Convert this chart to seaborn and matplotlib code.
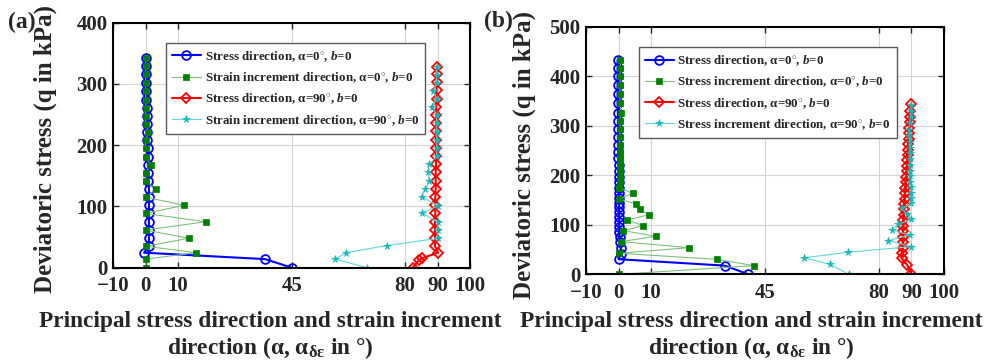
import numpy as np
import pandas as pd
import matplotlib
matplotlib.use('Agg')
import matplotlib.pyplot as plt
import seaborn as sns

# ---- panel (a) data ----
q_a0 = [0, 14, 24.5, 35, 48, 61.5, 75, 88.5, 102, 115, 128, 141.5, 155, 168, 181,
        195, 208, 221.5, 235, 248, 261, 274, 288, 302, 315.5, 329, 343]
stress_a0 = [45, 36.8, -0.5, 1.0, 1.0, 1.0, 1.0, 1.0, 1.0, 1.0, 1.0, 0.8, 0.8, 0.8, 0.8,
             0.8, 0.5, 0.5, 0.5, 0.5, 0.3, 0.2, 0.2, 0.2, 0.1, 0.1, 0.1]
strain_a0 = [0, 0, 15.5, 0, 13.3, 0, 18.5, 0, 11.9, 0, 3.1, 0, 0, 1.5, 0,
             0, 0, 0.8, 0, 0, 0, 0, 0, 0, 0, 0, 0]

q_a90 = [0, 12, 15.5, 24.5, 35, 48.4, 61.8, 75.2, 88.6, 102, 115.4, 128.8, 142.2, 155.6,
         169, 182.4, 195.8, 209.2, 222.6, 236, 249.4, 262.8, 276.2, 289.6, 303, 316.4, 328]
stress_a90 = [82.3, 84.2, 85.2, 90.1, 89.2, 89.2, 89.2, 89.2, 89.3, 89.3, 89.3, 89.4, 89.4, 89.4,
              89.5, 89.5, 89.5, 89.5, 89.6, 89.6, 89.6, 89.6, 89.7, 89.7, 89.7, 89.7, 89.8]
q_a90s = [0, 14, 24.5, 36, 48, 61.5, 75, 89, 101, 116, 128, 141.5, 155.5, 168.5, 183,
          196, 209, 222, 236, 249, 263, 276, 289, 302, 315, 328]
strain_a90 = [68.2, 58.4, 61.8, 74.3, 90.1, 90.1, 90.1, 85.1, 90.1, 85.1, 86.1, 87.5, 86.9, 87.5, 89.7,
              89.7, 89.7, 89.7, 89.7, 89.7, 88.4, 89.7, 88.7, 89.7, 89.7, 89.7]

# ---- panel (b) data ----
q_b0 = [0, 17.5, 30.5, 42, 54, 65, 75, 85, 95, 105, 115, 125, 135, 145, 155, 165, 175,
        186, 197, 209, 221, 234, 247, 261, 277, 293, 310, 326, 345, 365, 382, 400, 416, 433]
stress_b0 = [39.9, 32.7, 0.0, 0.7, 0.7, 0.5, 0.3, 0.2, 0.2, 0.2, 0.2, 0.2, 0.2, 0.2, 0.2, 0.2, 0.2,
             0.1, 0.0, 0.0, 0.0, -0.1, -0.1, -0.2, -0.2, -0.2, -0.2, -0.2, -0.3, -0.3, -0.3, -0.3, -0.3, -0.3]
q_b0s = [0, 17.5, 30.3, 42.4, 53.8, 66, 76.7, 88.2, 98.3, 109.7, 120.5, 131.3, 142, 152, 163.5, 175,
         187, 198, 210, 222, 235, 248, 262, 277, 293, 310, 326, 345, 365, 382, 400, 416, 433]
strain_b0 = [0, 41.6, 30.2, 0.2, 21.6, 0.7, 11.4, 1.5, 7.6, 2.7, 9.4, 6.6, 5.4, 0.2, 4.3, 0.2,
             0.3, 0.3, 0.4, 0.3, 0.4, 0.4, 0.4, 0.4, 0.5, 0.5, 0.8, 0.4, 0.4, 0.5, 0.5, 0.6, 0.6]

q_b90 = [0, 18.8, 32.3, 43, 54, 65, 76, 87, 98, 109, 120, 131, 142, 153, 164, 175, 186, 197,
         208, 219, 230, 241, 252, 263, 274, 285, 296, 307, 318, 330, 343]
stress_b90 = [90, 88.7, 87.0, 87.2, 87.3, 87.3, 87.4, 87.4, 87.5, 87.5, 87.6, 87.7, 87.8, 87.9, 88.0,
              88.1, 88.3, 88.4, 88.5, 88.6, 88.7, 88.8, 88.9, 89.0, 89.1, 89.2, 89.3, 89.4, 89.5, 89.6, 89.8]
q_b90s = [0, 20, 33.5, 44.5, 56, 68, 79.5, 89.5, 101, 111, 122, 133, 143, 154, 165, 176, 187, 198,
          209, 220, 232, 244, 256, 268, 280, 292, 305, 318, 330, 342]
strain_b90 = [70.7, 65, 57.1, 70.5, 90, 82.9, 89.4, 83.9, 85.9, 90, 88.5, 87, 89.8, 89.8, 89.8, 89.8,
              89.6, 89.6, 89.6, 89.6, 89.5, 89.5, 89.4, 89.4, 89.3, 89.3, 89.5, 89.7, 89.8, 89.9]

x_ticks = [-10, 0, 10, 45, 80, 90, 100]

sns.set_style('ticks')
plt.rcParams['font.family'] = ['Liberation Serif', 'DejaVu Serif']
plt.rcParams['font.weight'] = 'bold'
plt.rcParams['mathtext.fontset'] = 'custom'
plt.rcParams['mathtext.rm'] = 'Liberation Serif:bold'
plt.rcParams['mathtext.it'] = 'Liberation Serif:italic:bold'
plt.rcParams['mathtext.bf'] = 'Liberation Serif:bold'

fig = plt.figure(figsize=(9.91, 3.64), dpi=100)
ax_a = fig.add_axes([0.1143, 0.2646, 0.3600, 0.6730])
ax_b = fig.add_axes([0.5913, 0.2464, 0.3613, 0.6802])


def draw(ax, qs0, xs0, qe0, xe0, qs90, xs90, qe90, xe90, word, ylab_pos):
    sns.lineplot(x=xs0, y=qs0, sort=False, estimator=None, ax=ax, color='blue', lw=1.5,
                 marker='o', ms=6.3, mfc='none', mec='blue', mew=1.3,
                 label=r'Stress direction, α=0$^{\circ}$, $b$=0')
    sns.lineplot(x=xe0, y=qe0, sort=False, estimator=None, ax=ax, color='#80c080', lw=0.8,
                 marker='s', ms=4, mfc='#008000', mec='#008000', mew=0.5,
                 label=word + r' increment direction, α=0$^{\circ}$, $b$=0')
    sns.lineplot(x=xs90, y=qs90, sort=False, estimator=None, ax=ax, color='red', lw=1.5,
                 marker='D', ms=5.5, mfc='none', mec='red', mew=1.3,
                 label=r'Stress direction, α=90$^{\circ}$, $b$=0')
    sns.lineplot(x=xe90, y=qe90, sort=False, estimator=None, ax=ax, color='#60d8d8', lw=0.8,
                 marker='*', ms=5.5, mfc='#10b8b8', mec='#10b8b8', mew=0.5,
                 label=word + r' increment direction, α=90$^{\circ}$, $b$=0')
    ax.set_xlim(-10, 100)
    ax.set_xticks(x_ticks)
    ax.grid(True, color='#d4d4d4', lw=0.8)
    ax.tick_params(direction='in', top=True, right=True, length=4, width=1,
                   labelsize=15, pad=4)
    ax.tick_params(axis='x', pad=6)
    for lbl in ax.get_xticklabels() + ax.get_yticklabels():
        lbl.set_fontweight('bold')
    for sp in ax.spines.values():
        sp.set_linewidth(1.5)
        sp.set_color('black')
    ax.set_xlabel('')
    ax.set_ylabel('Deviatoric stress (q in kPa)', fontsize=18, fontweight='bold')
    ax.yaxis.set_label_coords(*ylab_pos)
    leg = ax.legend(loc='upper left', bbox_to_anchor=(0.148, 0.917), borderaxespad=0,
                    fontsize=9.4, handlelength=2.2, handletextpad=0.3, labelspacing=0.5,
                    fancybox=False, edgecolor='0.35', framealpha=1, borderpad=0.45)
    leg.get_frame().set_linewidth(1.0)
    for t in leg.get_texts():
        t.set_fontweight('bold')


draw(ax_a, q_a0, stress_a0, q_a0, strain_a0, q_a90, stress_a90, q_a90s, strain_a90, 'Strain',
     (-0.158, 0.484))
ax_a.set_ylim(0, 400)
ax_a.set_yticks([0, 100, 200, 300, 400])

draw(ax_b, q_b0, stress_b0, q_b0s, strain_b0, q_b90, stress_b90, q_b90s, strain_b90, 'Stress',
     (-0.14, 0.48))
ax_b.set_ylim(0, 500)
ax_b.set_yticks([0, 100, 200, 300, 400, 500])

xlab = 'Principal stress direction and strain increment\n' + r'direction (α, α$_{\mathrm{δε}}$ in °)'
fig.text(0.273, 0.008, xlab, ha='center', va='bottom', fontsize=16.8, fontweight='bold',
         linespacing=1.15)
fig.text(0.758, 0.008, xlab, ha='center', va='bottom', fontsize=16.8, fontweight='bold',
         linespacing=1.15)
fig.text(0.008, 0.938, '(a)', fontsize=17, fontweight='bold', va='center')
fig.text(0.488, 0.941, '(b)', fontsize=17, fontweight='bold', va='center')

fig.savefig('out.png', dpi=100)
